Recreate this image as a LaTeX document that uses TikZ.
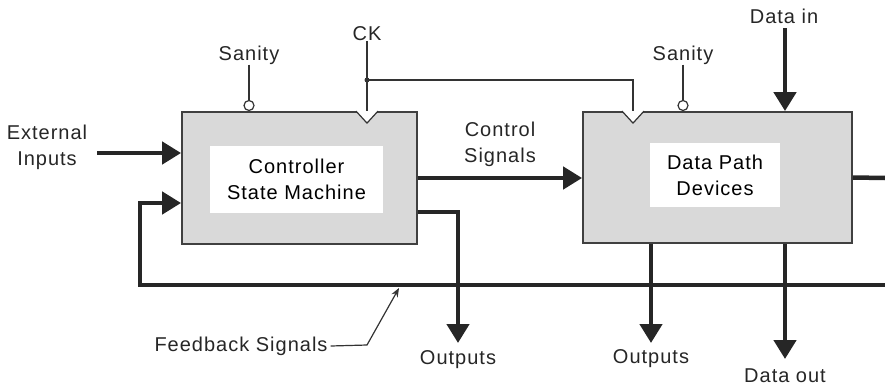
\documentclass[tikz,border=0pt]{standalone}
\usepackage{fontspec}
\setmainfont{Liberation Sans}[LetterSpace=5]
\usetikzlibrary{arrows.meta}

\tikzset{
  blockbox/.style={draw=black!75, line width=1.8pt, fill=black!15, inner sep=0pt},
  innerbox/.style={fill=white, inner sep=0pt, align=center},
  lbl/.style={inner sep=0pt, align=center, text=black!85},
  busline/.style={line width=4.5pt, draw=black!85},
  bus/.style={busline, -{Triangle[length=19pt,width=22pt]}},
  wire/.style={line width=1.2pt, draw=black!80},
  bubble/.style={circle, draw=black!80, line width=1.2pt, fill=white, minimum size=10pt, inner sep=0pt},
}

\begin{document}
\begin{tikzpicture}[x=1pt, y=-1pt, font=\fontsize{20}{26}\selectfont, line join=miter]
  \useasboundingbox (0,0) rectangle (885,388);
  % blocks
  \node[blockbox, minimum width=235pt, minimum height=132pt] (ctrl) at (299.5,178) {};
  \node[blockbox, minimum width=269pt, minimum height=131pt] (dp) at (717.5,177.5) {};
  \node[innerbox, minimum width=173pt, minimum height=67pt] (ctrltxt) at (296.5,179.5) {Controller\\State Machine};
  \node[innerbox, minimum width=130pt, minimum height=64pt] (dptxt) at (715,175) {Data Path\\Devices};

  % labels
  \node[lbl] (extin) at (47,147) {External\\Inputs};
  \node[lbl] (ctlsig) at (500,144) {Control\\Signals};
  \node[lbl] (sanA) at (249,55) {Sanity};
  \node[lbl] (sanB) at (683,55) {Sanity};
  \node[lbl] (ck) at (367,34) {CK};
  \node[lbl] (datain) at (784,16) {Data in};
  \node[lbl] (fbsig) at (241,346) {Feedback Signals};
  \node[lbl] (outA) at (458,360) {Outputs};
  \node[lbl] (outB) at (651,359) {Outputs};
  \node[lbl] (dataout) at (785,376) {Data out};

  % free ends
  \coordinate (extsrc) at (97,153);
  \coordinate (fbR) at (885,285);
  \coordinate (fbL) at (140,285);
  \coordinate (dpR) at (885,178);
  \coordinate (dinsrc) at (785,28);
  \coordinate (outAtip) at (458,343);
  \coordinate (outBtip) at (651,343);
  \coordinate (douttip) at (785,359);
  \coordinate (ckjoin) at (367,80);
  \coordinate (ckturn) at (633,80);
  \coordinate (fbknee) at (367,345);
  \coordinate (fbtip) at (399,288);

  % buses
  \draw[bus] (extsrc) -- (extsrc -| ctrl.west);
  \draw[bus] (ctrl.east) -- (ctrl.east -| dp.west);
  \draw[bus] ([yshift=-34pt]ctrl.east) -| (outAtip);
  \draw[bus] (fbR) -- (fbL) |- ([yshift=-25pt]ctrl.west);
  \draw[busline] (dp.east) -- (dpR);
  \draw[bus] (dp.south -| outBtip) -- (outBtip);
  \draw[bus] (dp.south -| douttip) -- (douttip);
  \draw[bus] (dinsrc) -- (dinsrc |- dp.north);

  % clock
  \coordinate (clkA) at (ckjoin |- ctrl.north);
  \coordinate (clkB) at (ckturn |- dp.north);
  \draw[wire] (ck.south) -- (clkA);
  \draw[wire] (ckjoin) -- (ckturn) -- (clkB);
  \fill[black!80] (ckjoin) circle (2.5pt);
  \foreach \c in {clkA,clkB}
    \filldraw[wire, fill=white] ([xshift=-11pt]\c) -- ([yshift=-12pt]\c) -- ([xshift=11pt]\c);

  % sanity
  \node[bubble, anchor=south] (bubA) at (sanA.south |- ctrl.north) {};
  \node[bubble, anchor=south] (bubB) at (sanB.south |- dp.north) {};
  \draw[wire] (sanA.south) -- (bubA.north);
  \draw[wire] (sanB.south) -- (bubB.north);

  % feedback leader
  \draw[wire, -{Stealth[length=9pt,width=7pt]}] ([xshift=3pt]fbsig.east) -- (fbknee) -- (fbtip);
\end{tikzpicture}
\end{document}
